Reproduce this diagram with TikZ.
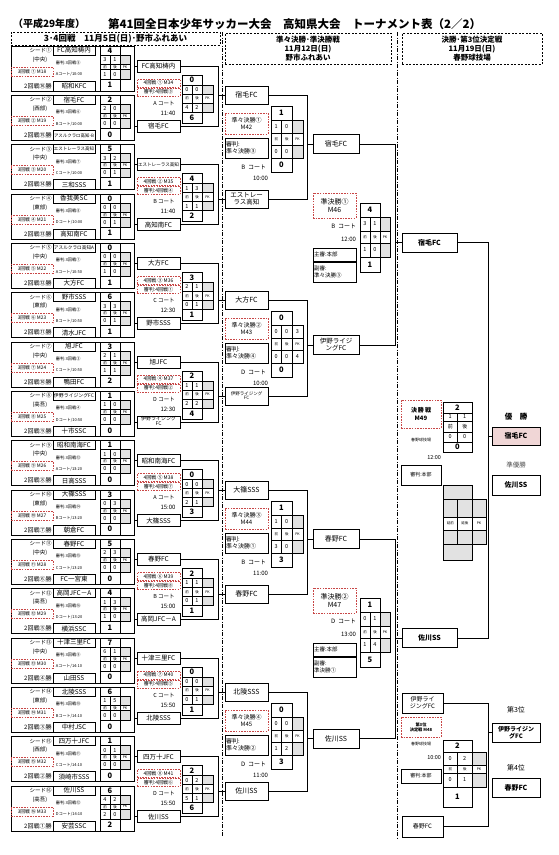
\documentclass[tikz,border=0pt]{standalone}
\usepackage{fontspec}
\usepackage{graphicx}
\setmainfont{Noto Sans CJK JP}
\usetikzlibrary{calc}
\definecolor{refred}{RGB}{200,70,70}
\definecolor{pkgray}{RGB}{226,226,226}
\definecolor{champpink}{RGB}{240,214,214}
\newsavebox\fitbx
\newcommand\fitto[2]{\sbox\fitbx{#2}\ifdim\wd\fitbx>#1\relax\resizebox{#1}{!}{\usebox\fitbx}\else\usebox\fitbx\fi}
\newcommand\fsz[1]{\fontsize{#1}{#1}\selectfont\baselineskip=1.2\baselineskip}
\newcommand\circn[1]{\ifcase#1\or ①\or ②\or ③\or ④\or ⑤\or ⑥\or ⑦\or ⑧\or ⑨\or ⑩\or ⑪\or ⑫\or ⑬\or ⑭\or ⑮\or ⑯\fi}
\newcommand\twol[2]{{\def\arraystretch{0.9}\begin{tabular}{@{}c@{}}#1\\#2\end{tabular}}}
\def\gsf{\fsz{7.5}\bfseries}\def\grf{\fsz{5.5}}\def\glf{\fsz{3.5}}
\newcommand\SetGrid[9]{\def\gx{#1}\def\gw{#2}\def\gp{#3}%
 \pgfmathsetmacro\gya{#4}\pgfmathsetmacro\gyb{#5}\pgfmathsetmacro\gyc{#6}%
 \pgfmathsetmacro\gyd{#7}\pgfmathsetmacro\gye{#8}\pgfmathsetmacro\gyf{#9}}
\newcommand\GridCell[5]{\draw[ln] (#1,#3) rectangle (#2,#4); \node at ({(#1+#2)/2},{(#3+#4)/2}) {#5};}
\newcommand\GridPK[3]{\if\relax\detokenize{#3}\relax\fill[pkgray] (\gxb,#1) rectangle (\gxc,#2);\fi
 \GridCell{\gxb}{\gxc}{#1}{#2}{\grf #3}}
\newcommand\Grid[8]{%
 \pgfmathsetmacro\gxa{\gx+\gw}%
 \pgfmathsetmacro\gxb{\gx+2*\gw}%
 \pgfmathsetmacro\gxc{\gx+2*\gw+\gp}%
 \draw[ln] (\gx,\gya) rectangle (\gxb,\gyb);
 \node[font=\gsf] at ({(\gx+\gxb)/2},{(\gya+\gyb)/2}) {#1};
 \GridCell{\gx}{\gxa}{\gyb}{\gyc}{\grf #2}%
 \GridCell{\gxa}{\gxb}{\gyb}{\gyc}{\grf #3}%
 \GridCell{\gx}{\gxa}{\gyc}{\gyd}{\glf 前}%
 \GridCell{\gxa}{\gxb}{\gyc}{\gyd}{\glf 後}%
 \GridCell{\gx}{\gxa}{\gyd}{\gye}{\grf #5}%
 \GridCell{\gxa}{\gxb}{\gyd}{\gye}{\grf #6}%
 \draw[ln] (\gx,\gye) rectangle (\gxb,\gyf);
 \node[font=\gsf] at ({(\gx+\gxb)/2},{(\gye+\gyf)/2}) {#8};
 \ifdim\gp pt>0pt
  \GridPK{\gyb}{\gyc}{#4}%
  \GridCell{\gxb}{\gxc}{\gyc}{\gyd}{\glf PK}%
  \GridPK{\gyd}{\gye}{#7}%
 \fi}
% ---------- round 3 block
\newcommand\RthreeBlock[8]{%
 \pgfmathsetmacro\rY{46+(#1-1)*49.33}%
 \node[draw, ln, minimum width=123pt, minimum height=45pt] (b#1) at (72.5,\rY+22.5) {};
 \node[tbox, minimum width=42pt, minimum height=9pt, font=\fsz{6.5}] (r3a#1) at (74,\rY+4.5) {\fitto{40pt}{#2}};
 \node[anchor=east, font=\fsz{5.5}] at (51.5,\rY+4.5) {シード\circn{#1}};
 \node[font=\fsz{5.5}] at (40,\rY+13.5) {(#3)};
 \node[anchor=west, font=\fsz{4.2}] at (56,\rY+17) {審判:3回戦\circn{#4}};
 \node[rdash, minimum width=42pt, minimum height=9pt, font=\fsz{4.8}] at (32,\rY+25.5) {3回戦 \circn{#1} M\the\numexpr17+#1\relax};
 \node[anchor=west, font=\fsz{4}] at (56,\rY+28.5) {#5};
 \node[anchor=east, font=\fsz{6}] at (51.5,\rY+40) {2回戦\circn{#6}勝};
 \node[tbox, minimum width=42pt, minimum height=10pt, font=\fsz{6.5}] (r3b#1) at (74,\rY+40) {\fitto{40pt}{#7}};
 \SetGrid{100}{10}{10}{\rY}{\rY+9}{\rY+18}{\rY+23.5}{\rY+33}{\rY+45}%
 \Grid#8}
% ---------- round 4 match
\newcommand\RfourMatch[7]{%
 \pgfmathsetmacro\rT{46+(2*#1-2)*49.33}%
 \edef\bA{b\the\numexpr2*#1-1\relax}\edef\bB{b\the\numexpr2*#1\relax}%
 \node[tbox, minimum width=43pt, minimum height=12pt, font=\fsz{6.5}] (r4a#1) at (158.5,\rT+20) {\fitto{41pt}{#2}};
 \node[tbox, minimum width=43pt, minimum height=12pt, font=\fsz{6.5}] (r4b#1) at (158.5,\rT+80) {\fitto{41pt}{#3}};
 \draw[ln] (r4a#1.west) -- (r4a#1.west -| \bA.east);
 \draw[ln] (r4b#1.west) -- (r4b#1.west -| \bB.east);
 \node[rdash, minimum width=43pt, minimum height=8pt, font=\fsz{5}] at (158.5,\rT+37) {4回戦 \circn{#1} M\the\numexpr33+#1\relax};
 \node[rdash, minimum width=43pt, minimum height=8pt, font=\fsz{5}] at (158.5,\rT+46) {審判:4回戦\circn{#4}};
 \node[font=\fsz{5.5}] at (164,\rT+57) {#5 コート};
 \node[font=\fsz{6}] at (168,\rT+67) {#6};
 \SetGrid{182}{10}{11}{\rT+29}{\rT+39}{\rT+48}{\rT+57}{\rT+66}{\rT+77}%
 \Grid#7
 \draw[ln] (r4a#1.east) -- (r4a#1.east -| c218) -- (r4b#1.east -| c218) -- (r4b#1.east);}
% ---------- quarter final
\newcommand\QFMatch[9]{%
 \node[tbox, minimum width=43pt, minimum height=18pt, font=\fsz{7}] (qa#1) at (246.5,#2) {#4};
 \node[tbox, minimum width=43pt, minimum height=18pt, font=\fsz{7}] (qb#1) at (246.5,#3) {#5};
 \draw[ln] (qa#1.west) -- (qa#1.west -| c218);
 \draw[ln] (qb#1.west) -- (qb#1.west -| c218);
 \pgfmathsetmacro\qm{(#2+#3)/2-3}%
 \node[tbox, minimum width=46pt, minimum height=19pt, font=\fsz{7}] (qw#1) at (336,\qm) {#6};
 \draw[ln] (qa#1.east) -- (qa#1.east -| c307) -- (qb#1.east -| c307) -- (qb#1.east);
 \draw[ln] (qw#1.west) -- (qw#1.west -| c307);
 \node[rdash, minimum width=43pt, minimum height=21pt, font=\fsz{6}] at (246.5,#2+28.5) {準々決勝\circn{#1}\\M\the\numexpr41+#1\relax};
 \node[tbox, minimum width=43pt, minimum height=20pt, text width=41pt, align=left, font=\fsz{6}] at (246.5,#2+53) {審判:\\準々決勝\circn{#7}};
 \node[anchor=east, font=\fsz{6}] at (266,#2+72) {#8\ \ コート};
 \node[anchor=east, font=\fsz{6}] at (268,#2+83) {#9};}
\newcommand\QFGrid[2]{\SetGrid{271}{10.5}{11}{#1+11}{#1+25}{#1+38}{#1+50}{#1+63}{#1+77}\Grid#2}
% ---------- semi final
\newcommand\SFMatch[7]{%
 \edef\qA{qw\the\numexpr2*#1-1\relax}\edef\qB{qw\the\numexpr2*#1\relax}%
 \draw[ln] (\qA.east) -- (\qA.east -| c395) -- (\qB.east -| c395) -- (\qB.east);
 \draw[ln] (#7.west) -- (#7.west -| c395);
 \node[rdash, minimum width=43pt, minimum height=25pt, font=\fsz{7}] at (334.5,#2+61.5) {準決勝\circn{#1}\\M\the\numexpr45+#1\relax};
 \node[anchor=east, font=\fsz{6}] at (356,#2+82) {#3\ \ コート};
 \node[anchor=east, font=\fsz{6}] at (356,#2+95) {#4};
 \node[tbox, minimum width=43pt, minimum height=13pt, text width=41pt, align=left, font=\fsz{5.5}] at (334.5,#2+110.5) {主審:本部};
 \node[tbox, minimum width=43pt, minimum height=20pt, text width=41pt, align=left, font=\fsz{5.5}] at (334.5,#2+128) {副審:\\#5};
 \SetGrid{360}{10}{10}{#2+59}{#2+73}{#2+87}{#2+99}{#2+113}{#2+128}%
 \Grid#6}
\begin{document}
\begin{tikzpicture}[x=1pt, y=-1pt, font=\fsz{5},
 every node/.style={inner sep=0pt, outer sep=0pt},
 ln/.style={line width=0.8pt},
 tbox/.style={draw, line width=0.8pt, align=center, inner sep=0.5pt},
 rdash/.style={draw=refred, line width=0.7pt, dash pattern=on 1.6pt off 1.1pt, align=center, inner sep=0.5pt},
 sepl/.style={line width=0.7pt, dash pattern=on 4pt off 1.5pt on 1pt off 1.5pt},
 hbox/.style={draw, line width=0.7pt, dash pattern=on 2pt off 1.5pt, align=center, inner sep=0pt}]
\useasboundingbox[fill=white] (0,0) rectangle (558,855);
\coordinate (c218) at (218,0);
\coordinate (c307) at (307,0);
\coordinate (c395) at (395,0);
\coordinate (c488) at (488,0);
% title
\node[anchor=west, font=\fsz{10}\bfseries] (t0) at (13,24) {（平成29年度）};
\node[anchor=west, font=\fsz{11.5}\bfseries] (t1) at (108,24) {第41回全日本少年サッカー大会　高知県大会　トーナメント表（2／2）};
% headers
\node[hbox, minimum width=209pt, minimum height=13pt, font=\fsz{8.5}\bfseries] (h1) at (115.5,38.5) {3･4回戦　11月5日(日)･野市ふれあい};
\node[hbox, minimum width=166pt, minimum height=31pt, font=\fsz{7.5}\bfseries] (h2) at (308,48.5) {準々決勝･準決勝戦\\11月12日(日)\\野市ふれあい};
\node[hbox, minimum width=140pt, minimum height=31pt, font=\fsz{7.5}\bfseries] (h3) at (472,48.5) {決勝･第3位決定戦\\11月19日(日)\\春野球技場};
\draw[sepl] (222,32) -- (222,836);
\draw[sepl] (397,32) -- (397,840);
% round 3
\RthreeBlock{1}{FC高知梼内}{中央}{5}{Aコート/10:00}{16}{昭和KFC}{{4}{3}{1}{}{1}{0}{}{1}}
\RthreeBlock{2}{宿毛FC}{西部}{6}{Bコート/10:00}{15}{アスルクラロ高知-B}{{2}{2}{0}{}{0}{0}{}{0}}
\RthreeBlock{3}{エストレーラス高知}{中央}{7}{Cコート/10:00}{14}{三和SSS}{{5}{3}{2}{}{0}{1}{}{1}}
\RthreeBlock{4}{香我美SC}{東部}{8}{Dコート/10:00}{13}{高知南FC}{{0}{0}{0}{}{0}{1}{}{1}}
\RthreeBlock{5}{アスルクラロ高知A}{中央}{1}{Aコート/10:50}{12}{大方FC}{{0}{0}{0}{}{1}{0}{}{1}}
\RthreeBlock{6}{野市SSS}{東部}{2}{Bコート/10:50}{11}{清水JFC}{{6}{3}{3}{}{0}{1}{}{1}}
\RthreeBlock{7}{旭JFC}{中央}{3}{Cコート/10:50}{10}{鴨田FC}{{3}{2}{1}{}{1}{1}{}{2}}
\RthreeBlock{8}{伊野ライジングFC}{高吾}{4}{Dコート/10:50}{9}{十市SSC}{{1}{1}{0}{}{0}{0}{}{0}}
\RthreeBlock{9}{昭和南海FC}{中央}{13}{Aコート/13:20}{8}{日高SSS}{{1}{1}{0}{}{0}{0}{}{0}}
\RthreeBlock{10}{大篠SSS}{東部}{14}{Bコート/13:20}{7}{朝倉FC}{{3}{0}{3}{}{0}{0}{}{0}}
\RthreeBlock{11}{春野FC}{中央}{15}{Cコート/13:20}{6}{FC一宮東}{{5}{2}{3}{}{0}{0}{}{0}}
\RthreeBlock{12}{高岡JFC－A}{高吾}{16}{Dコート/13:20}{5}{横浜SSC}{{4}{1}{3}{}{1}{0}{}{1}}
\RthreeBlock{13}{十津三里FC}{中央}{9}{Aコート/14:10}{4}{山田SS}{{7}{6}{1}{}{0}{0}{}{0}}
\RthreeBlock{14}{北陵SSS}{東部}{10}{Bコート/14:10}{3}{中村JSC}{{6}{1}{5}{}{0}{0}{}{0}}
\RthreeBlock{15}{四万十JFC}{西部}{11}{Cコート/14:10}{2}{須崎市SSS}{{1}{0}{1}{}{0}{0}{}{0}}
\RthreeBlock{16}{佐川SS}{高吾}{12}{Dコート/14:10}{1}{安芸SSC}{{6}{4}{2}{}{2}{0}{}{2}}
% round 4
\RfourMatch{1}{FC高知梼内}{宿毛FC}{3}{A}{11:40}{{0}{0}{0}{}{4}{2}{}{6}}
\RfourMatch{2}{エストレーラス高知}{高知南FC}{4}{B}{11:40}{{4}{1}{3}{}{1}{1}{}{2}}
\RfourMatch{3}{大方FC}{野市SSS}{1}{C}{12:30}{{3}{2}{1}{}{0}{1}{}{1}}
\RfourMatch{4}{旭JFC}{{\fsz{5}\twol{伊野ライジング}{FC}}}{2}{D}{12:30}{{2}{1}{1}{}{2}{2}{}{4}}
\RfourMatch{5}{昭和南海FC}{大篠SSS}{7}{A}{15:00}{{0}{0}{0}{}{2}{1}{}{3}}
\RfourMatch{6}{春野FC}{高岡JFC－A}{8}{B}{15:00}{{2}{1}{1}{}{0}{1}{}{1}}
\RfourMatch{7}{十津三里FC}{北陵SSS}{5}{C}{15:50}{{0}{0}{0}{}{0}{1}{}{1}}
\RfourMatch{8}{四万十JFC}{佐川SS}{6}{D}{15:50}{{2}{0}{2}{}{5}{1}{}{6}}
% quarter finals
\QFMatch{1}{95}{199}{宿毛FC}{{\fsz{6.5}\twol{エストレー}{ラス高知}}}{宿毛FC}{3}{B}{10:00}
\QFGrid{95}{{1}{1}{0}{}{0}{0}{}{0}}
\QFMatch{2}{300}{396}{大方FC}{{\fsz{4.5}\twol{伊野ライジング}{FC}}}{{\fsz{6.5}\twol{伊野ライジ}{ングFC}}}{4}{D}{10:00}
\QFGrid{300}{{0}{0}{0}{3}{0}{0}{4}{0}}
\QFMatch{3}{490}{594}{大篠SSS}{春野FC}{春野FC}{1}{B}{11:00}
\QFGrid{490}{{1}{1}{0}{}{3}{0}{}{3}}
\QFMatch{4}{692}{791}{北陵SSS}{佐川SS}{佐川SS}{2}{D}{11:00}
\QFGrid{692}{{0}{0}{0}{}{1}{2}{}{3}}
% final teams
\node[tbox, minimum width=55pt, minimum height=19pt, font=\fsz{7}\bfseries] (fa) at (429.5,242.5) {宿毛FC};
\node[tbox, minimum width=55pt, minimum height=19pt, font=\fsz{7}\bfseries] (fb) at (429.5,638) {佐川SS};
% semi finals
\SFMatch{1}{144}{B}{12:00}{準々決勝③}{{4}{3}{1}{}{1}{0}{}{1}}{fa}
\SFMatch{2}{539}{D}{13:00}{準決勝①}{{1}{0}{1}{}{1}{4}{}{5}}{fb}
% final
\node[tbox, fill=champpink, minimum width=48pt, minimum height=18pt, font=\fsz{7}\bfseries] (champ) at (516,436) {宿毛FC};
\node[font=\fsz{7.5}\bfseries] (yu) at (516,417) {優　勝};
\node[font=\fsz{6.5}, text=black!70] (jyu) at (516,465) {準優勝};
\node[tbox, minimum width=48pt, minimum height=20pt, font=\fsz{7}\bfseries] (runner) at (516,485) {佐川SS};
\draw[ln] (fa.east) -- (fa.east -| c488) -- (fb.east -| c488) -- (fb.east);
\draw[ln] (champ.west) -- (champ.west -| c488);
\node[rdash, minimum width=40pt, minimum height=28pt, font=\fsz{6}\bfseries] (fm) at (421,414) {決\,勝\,戦\\M49};
\node[font=\fsz{4}] at (421,440) {春野球技場};
\node[anchor=east, font=\fsz{5.5}] at (441,458) {12:00};
\node[tbox, minimum width=40pt, minimum height=20pt, font=\fsz{5}] at (421,475) {審判:本部};
{\def\glf{\fsz{5}}\SetGrid{443}{14.5}{0}{402}{413}{421}{432}{442}{452}\Grid{2}{1}{1}{}{0}{0}{}{0}}
\foreach \xa/\xb/\ya/\yb in {443/472/485/499, 443/457.5/499/517, 457.5/472/499/517, 472/486/499/517,
  443/457.5/530/544, 457.5/472/530/544, 472/486/530/544, 443/472/544/560}
  \draw[ln, fill=pkgray] (\xa,\ya) rectangle (\xb,\yb);
\foreach \xa/\xb/\tx in {443/457.5/延前, 457.5/472/延後, 472/486/PK}
  {\draw[ln] (\xa,517) rectangle (\xb,530);
   \node[font=\fsz{3.5}] at ({(\xa+\xb)/2},523.5) {\tx};}
% third place
\node[tbox, minimum width=41pt, minimum height=20pt, font=\fsz{6}] (ta) at (422.5,703) {伊野ライ\\ジングFC};
\node[tbox, minimum width=41pt, minimum height=21pt, font=\fsz{6}] (tb) at (422.5,826.5) {春野FC};
\node[tbox, minimum width=48pt, minimum height=19pt, font=\fsz{6}\bfseries] (third) at (516,732.5) {伊野ライジン\\グFC};
\draw[ln] (ta.east) -- (ta.east -| c488) -- (tb.east -| c488) -- (tb.east);
\draw[ln] (third.west) -- (third.west -| c488);
\node[font=\fsz{7}] (p3) at (516,710) {第3位};
\node[font=\fsz{7}] (p4) at (516,768) {第4位};
\node[tbox, minimum width=48pt, minimum height=19pt, font=\fsz{7}\bfseries] (fourth) at (516,787.5) {春野FC};
\node[rdash, minimum width=40pt, minimum height=20pt, font=\fsz{4.2}\bfseries] (tm) at (421,727) {第3位\\決定戦 M48};
\node[font=\fsz{4}] at (421,744) {春野球技場};
\node[anchor=east, font=\fsz{5.5}] at (441,758) {10:00};
\node[tbox, minimum width=40pt, minimum height=14pt, font=\fsz{5}] at (421,776) {審判:本部};
\SetGrid{443}{14.5}{14}{740}{752}{765}{773}{787}{807}\Grid{2}{0}{2}{}{0}{1}{}{1}
\end{tikzpicture}
\end{document}
